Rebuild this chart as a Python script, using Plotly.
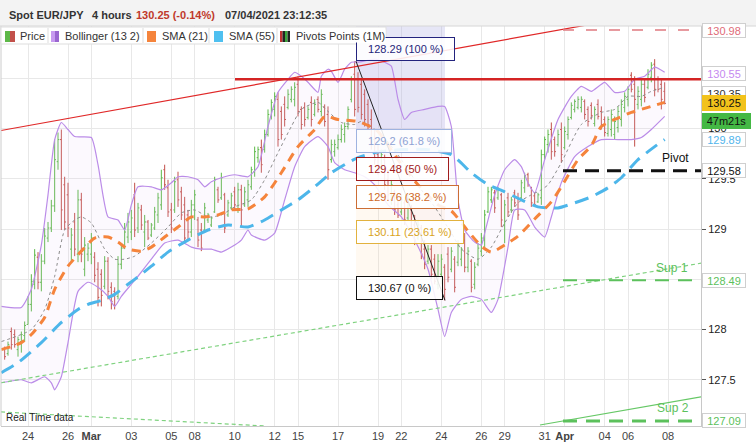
import plotly.graph_objects as go

FONT = "Liberation Sans, Arial, Helvetica, sans-serif"

# ---------------- data (EUR/JPY, 4-hour bars) ----------------
# bar index 0 = 24 Feb 00:00; weekdays have 6 bars, Sundays 1 bar
opens = [
    127.80, 127.76, 127.98, 127.95, 127.80, 127.88, 127.94, 128.05, 128.25, 128.45,
    128.72, 128.47, 128.68, 128.91, 129.01, 129.23, 129.67, 129.89, 129.44, 129.34,
    128.80, 129.07, 128.75, 129.29, 128.60, 128.75, 128.75, 128.72, 128.60, 128.55,
    128.43, 128.68, 128.42, 128.38, 128.33, 128.65, 128.81, 128.92, 128.97, 129.34,
    129.01, 129.19, 128.97, 129.07, 128.94, 129.01, 129.14, 129.24, 129.59, 129.41,
    129.19, 129.19, 129.49, 129.37, 129.24, 129.14, 128.97, 129.24, 129.09, 128.99,
    128.99, 129.09, 129.04, 129.17, 129.39, 129.31, 129.34, 129.14, 129.21, 129.37,
    129.19, 129.39, 129.24, 129.29, 129.42, 129.57, 129.71, 129.81, 129.79, 129.94,
    130.12, 130.19, 130.29, 130.17, 130.24, 130.21, 130.29, 130.29, 130.44, 130.19,
    130.21, 130.11, 130.26, 130.14, 130.29, 130.17, 130.21, 130.14, 129.69, 129.77,
    129.81, 129.89, 129.94, 130.02, 130.29, 130.54, 130.49, 130.44, 130.34, 130.24,
    130.09, 129.89, 129.74, 129.61, 129.69, 129.49, 129.29, 129.37, 129.24, 129.17,
    129.26, 129.11, 129.19, 129.04, 128.91, 129.01, 128.80, 128.68, 128.80, 128.70,
    128.45, 128.55, 128.62, 128.75, 128.60, 128.70, 128.67, 128.70, 128.89, 128.62,
    128.68, 128.45, 128.65, 128.78, 128.89, 129.17, 129.29, 129.36, 129.31, 129.34,
    129.04, 129.31, 129.19, 129.36, 129.31, 129.31, 129.41, 129.54, 129.41, 129.33,
    129.27, 129.31, 129.74, 129.84, 129.99, 129.89, 129.84, 129.99, 129.81, 129.94,
    130.11, 130.19, 130.21, 130.21, 130.27, 130.19, 130.23, 130.05, 130.24, 130.17,
    130.09, 129.95, 129.99, 129.94, 130.01, 130.09, 130.21, 130.29, 130.53, 130.44,
    130.24, 130.29, 130.44, 130.41, 130.51, 130.64, 130.49, 130.44, 130.37,
]
highs = [
    127.83, 127.88, 128.02, 128.00, 127.93, 127.98, 128.08, 128.33, 128.55, 128.80,
    128.77, 128.75, 129.01, 129.07, 129.29, 129.89, 129.96, 129.99, 129.52, 129.46,
    129.01, 129.16, 129.39, 129.36, 128.92, 128.86, 128.96, 128.77, 128.67, 128.60,
    128.73, 128.72, 128.47, 128.42, 128.73, 128.86, 129.06, 129.16, 129.19, 129.46,
    129.26, 129.24, 129.14, 129.09, 129.06, 129.22, 129.36, 129.59, 129.64, 129.49,
    129.26, 129.52, 129.57, 129.42, 129.32, 129.19, 129.29, 129.39, 129.12, 129.06,
    129.26, 129.16, 129.12, 129.52, 129.42, 129.56, 129.36, 129.29, 129.36, 129.42,
    129.46, 129.44, 129.42, 129.49, 129.62, 129.82, 129.82, 129.89, 129.99, 130.19,
    130.29, 130.36, 130.36, 130.22, 130.32, 130.39, 130.42, 130.46, 130.52, 130.22,
    130.26, 130.22, 130.32, 130.29, 130.32, 130.39, 130.24, 130.22, 129.89, 129.89,
    129.94, 130.04, 130.06, 130.22, 130.52, 130.67, 130.56, 130.49, 130.39, 130.29,
    130.19, 129.99, 129.84, 129.79, 129.74, 129.59, 129.49, 129.39, 129.29, 129.34,
    129.29, 129.34, 129.24, 129.14, 129.09, 129.04, 128.89, 128.84, 128.84, 128.75,
    128.75, 128.75, 128.65, 128.82, 128.82, 128.73, 128.89, 128.82, 128.96, 128.82,
    128.70, 128.67, 128.86, 128.96, 129.19, 129.42, 129.42, 129.39, 129.42, 129.36,
    129.29, 129.36, 129.32, 129.39, 129.36, 129.49, 129.56, 129.56, 129.42, 129.36,
    129.36, 129.79, 129.92, 129.99, 130.06, 129.92, 129.99, 130.06, 130.02, 130.12,
    130.26, 130.29, 130.32, 130.32, 130.29, 130.22, 130.26, 130.22, 130.29, 130.22,
    130.12, 130.12, 130.19, 130.12, 130.22, 130.29, 130.36, 130.42, 130.56, 130.52,
    130.42, 130.49, 130.49, 130.59, 130.66, 130.69, 130.52, 130.49, 130.46,
]
lows = [
    127.70, 127.74, 127.80, 127.82, 127.73, 127.77, 127.88, 128.05, 128.18, 128.40,
    128.40, 128.38, 128.65, 128.87, 128.97, 129.17, 129.59, 128.99, 128.99, 128.92,
    128.68, 128.73, 128.67, 128.67, 128.53, 128.68, 128.65, 128.47, 128.23, 128.23,
    128.40, 128.30, 128.20, 128.20, 128.30, 128.60, 128.80, 128.86, 128.89, 128.92,
    128.96, 128.99, 128.82, 128.89, 128.92, 128.99, 129.06, 129.19, 129.39, 129.12,
    128.96, 129.16, 129.22, 129.09, 128.86, 128.89, 128.92, 129.09, 128.82, 128.78,
    128.96, 129.06, 129.02, 129.16, 129.26, 129.29, 128.96, 129.12, 129.19, 129.19,
    129.16, 129.02, 129.22, 129.22, 129.39, 129.52, 129.66, 129.56, 129.76, 129.92,
    130.09, 130.12, 129.82, 129.89, 130.02, 130.19, 130.26, 130.22, 130.12, 129.99,
    130.02, 130.09, 130.02, 130.12, 130.16, 130.12, 130.02, 129.49, 129.66, 129.72,
    129.79, 129.86, 129.86, 129.99, 130.26, 130.12, 130.16, 130.09, 130.02, 129.99,
    129.79, 129.64, 129.54, 129.59, 129.39, 129.29, 129.24, 129.14, 129.11, 129.14,
    129.04, 129.09, 128.94, 128.84, 128.89, 128.70, 128.60, 128.65, 128.50, 128.45,
    128.40, 128.45, 128.29, 128.47, 128.57, 128.37, 128.63, 128.63, 128.57, 128.57,
    128.37, 128.40, 128.63, 128.73, 128.82, 129.16, 129.26, 129.16, 129.29, 129.02,
    128.86, 129.12, 129.16, 129.22, 129.09, 129.29, 129.36, 129.42, 129.22, 129.22,
    129.26, 129.24, 129.69, 129.76, 129.69, 129.72, 129.82, 129.66, 129.79, 129.89,
    130.09, 130.16, 130.19, 130.16, 130.09, 130.02, 130.09, 130.02, 130.09, 129.99,
    129.92, 129.92, 129.92, 129.89, 129.96, 130.02, 130.16, 130.22, 130.36, 129.82,
    130.19, 130.22, 130.26, 130.39, 130.46, 130.32, 130.36, 130.19, 130.24,
]
closes = [
    127.73, 127.85, 127.85, 127.85, 127.90, 127.95, 128.04, 128.25, 128.48, 128.74,
    128.47, 128.68, 128.93, 129.01, 129.23, 129.69, 129.89, 129.19, 129.07, 129.01,
    128.94, 128.80, 129.29, 128.75, 128.84, 128.81, 128.91, 128.54, 128.32, 128.34,
    128.68, 128.38, 128.28, 128.24, 128.65, 128.81, 128.97, 129.07, 129.11, 128.99,
    129.21, 129.04, 129.07, 128.91, 129.04, 129.17, 129.31, 129.51, 129.44, 129.17,
    129.01, 129.47, 129.29, 129.14, 128.91, 128.97, 129.24, 129.34, 128.89, 128.81,
    129.21, 129.14, 129.11, 129.49, 129.29, 129.51, 129.01, 129.26, 129.33, 129.24,
    129.39, 129.19, 129.37, 129.44, 129.59, 129.77, 129.79, 129.64, 129.94, 130.14,
    130.26, 130.32, 129.89, 129.94, 130.09, 130.34, 130.39, 130.41, 130.17, 130.04,
    130.09, 130.19, 130.09, 130.24, 130.19, 130.34, 130.07, 129.59, 129.84, 129.84,
    129.89, 129.99, 130.02, 130.19, 130.49, 130.19, 130.21, 130.14, 130.09, 130.04,
    129.84, 129.69, 129.59, 129.74, 129.44, 129.34, 129.44, 129.19, 129.14, 129.29,
    129.09, 129.29, 128.99, 128.89, 129.04, 128.75, 128.65, 128.80, 128.55, 128.48,
    128.68, 128.70, 128.40, 128.52, 128.78, 128.42, 128.84, 128.80, 128.62, 128.78,
    128.42, 128.62, 128.81, 128.91, 129.14, 129.37, 129.39, 129.21, 129.39, 129.09,
    129.24, 129.17, 129.29, 129.26, 129.14, 129.46, 129.53, 129.44, 129.26, 129.24,
    129.34, 129.74, 129.89, 129.94, 129.77, 129.77, 129.94, 129.74, 129.97, 130.09,
    130.23, 130.27, 130.29, 130.29, 130.14, 130.07, 130.13, 130.19, 130.12, 130.04,
    129.96, 130.09, 130.14, 130.07, 130.17, 130.24, 130.32, 130.39, 130.39, 130.29,
    130.37, 130.44, 130.31, 130.54, 130.63, 130.39, 130.39, 130.29, 130.25,
]
first_bar = -7
bar_x = list(range(first_bar, first_bar + len(closes)))

tick_pos = [0, 12, 19, 31, 43, 50, 62, 74, 81, 93, 105, 112, 124, 136, 143, 155, 161, 173, 180, 192]
tick_text = ["24", "26", "<b>Mar</b>", "03", "05", "08", "10", "12", "15", "17", "19",
             "22", "24", "26", "29", "31", "<b>Apr</b>", "04", "06", "08"]

# indicators (bar index, price)
sma21_x = [-8, -5, -2, 1, 5, 8, 12, 16, 20, 24, 27, 30, 34, 37, 41, 45, 49, 53, 57, 61,
           66, 71, 76, 81, 86, 89, 93, 99, 102, 105, 111, 117, 123, 127, 132, 136, 139, 142, 147, 152,
           157, 160, 165, 169, 172, 176, 181, 186, 191]
sma21_y = [127.80, 127.83, 127.87, 127.95, 128.12, 128.40, 128.63, 128.78, 128.91, 128.92,
           128.87, 128.80, 128.78, 128.82, 128.92, 129.02, 129.12, 129.12, 129.14, 129.19,
           129.20, 129.32, 129.56, 129.82, 129.99, 130.12, 130.09, 130.07, 130.03, 129.97,
           129.69, 129.44, 129.24, 129.18, 128.98, 128.83, 128.77, 128.82, 128.93, 129.10,
           129.27, 129.42, 129.69, 129.83, 130.02, 130.09, 130.16, 130.21, 130.26]
sma55_x = [-8, -3, 4, 10, 15, 18, 22, 26, 30, 34, 37, 42, 48, 54, 60, 66, 71, 76, 81, 86,
           91, 96, 99, 104, 112, 120, 127, 133, 138, 143, 148, 153, 159, 164, 169, 174, 178, 183, 188, 191]
sma55_y = [127.57, 127.67, 127.87, 128.07, 128.20, 128.25, 128.29, 128.35, 128.45, 128.55,
           128.63, 128.77, 128.89, 128.99, 129.04, 129.02, 129.09, 129.19, 129.29, 129.42,
           129.56, 129.66, 129.71, 129.76, 129.79, 129.79, 129.74, 129.56, 129.44, 129.37,
           129.29, 129.22, 129.21, 129.26, 129.32, 129.41, 129.51, 129.69, 129.82, 129.89]
bbm_x = [-8, 1, 5, 8, 11, 14, 16, 19, 23, 26, 29, 32, 37, 42, 46, 50, 54, 58, 62, 67,
         71, 75, 79, 82, 87, 90, 94, 98, 100, 106, 112, 118, 122, 127, 130, 135, 139, 143, 147, 151,
         154, 156, 160, 166, 172, 176, 180, 184, 187, 191]
bbm_y = [127.88, 128.00, 128.20, 128.53, 128.99, 129.09, 129.12, 129.06, 128.80, 128.70,
         128.70, 128.73, 128.86, 129.02, 129.16, 129.19, 129.12, 129.14, 129.22, 129.29,
         129.49, 129.76, 130.02, 130.19, 130.26, 130.17, 130.06, 130.04, 130.07, 129.94,
         129.69, 129.39, 129.22, 128.96, 128.80, 128.70, 128.82, 129.06, 129.26, 129.34,
         129.39, 129.44, 129.66, 130.04, 130.16, 130.19, 130.32, 130.32, 130.37, 130.41]
bbu_x = [-8, -2, 1, 4, 6, 8, 10, 12, 14, 19, 21, 24, 27, 29, 31, 33, 37, 40, 43, 45,
         48, 51, 53, 55, 58, 62, 66, 69, 72, 75, 78, 80, 82, 84, 87, 88, 90, 91, 93, 95,
         97, 99, 104, 107, 109, 111, 113, 115, 119, 123, 125, 127, 129, 131, 134, 136, 137, 140, 143, 146,
         148, 150, 152, 155, 159, 163, 166, 169, 173, 176, 179, 182, 185, 188, 191]
bbu_y = [128.23, 128.22, 128.40, 128.84, 129.34, 129.89, 130.06, 129.99, 129.92, 129.91,
         129.64, 129.12, 129.09, 128.99, 129.24, 129.42, 129.42, 129.39, 129.46, 129.52,
         129.52, 129.49, 129.42, 129.47, 129.51, 129.54, 129.52, 129.62, 130.02, 130.36,
         130.49, 130.56, 130.52, 130.46, 130.36, 130.52, 130.59, 130.57, 130.46, 130.59,
         130.66, 130.66, 130.69, 130.66, 130.62, 130.29, 130.09, 130.16, 130.19, 130.22,
         130.22, 130.02, 129.29, 128.99, 128.87, 128.84, 128.96, 129.34, 129.59, 129.69,
         129.62, 129.46, 129.36, 129.69, 130.09, 130.32, 130.42, 130.37, 130.46, 130.36,
         130.37, 130.49, 130.52, 130.61, 130.56]
bbl_x = [-8, -2, 1, 5, 7, 8, 10, 12, 15, 18, 21, 24, 26, 28, 31, 33, 37, 41, 45, 49,
         52, 55, 58, 61, 64, 66, 67, 71, 74, 77, 80, 83, 87, 90, 92, 95, 98, 101, 104, 108,
         112, 116, 120, 123, 125, 127, 130, 133, 136, 139, 141, 144, 146, 149, 152, 155, 157, 160, 164, 168,
         172, 177, 181, 184, 187, 191]
bbl_y = [127.47, 127.50, 127.47, 127.53, 127.47, 127.40, 127.53, 127.87, 128.38, 128.47,
         128.42, 128.33, 128.23, 128.33, 128.45, 128.53, 128.70, 128.86, 128.89, 128.82,
         128.80, 128.80, 128.77, 128.82, 128.89, 128.99, 128.94, 128.89, 128.96, 129.29,
         129.62, 129.82, 129.92, 129.82, 129.66, 129.59, 129.56, 129.52, 129.44, 129.24,
         129.12, 128.89, 128.60, 128.20, 127.93, 128.17, 128.30, 128.33, 128.30, 128.17,
         128.30, 128.82, 129.19, 129.19, 129.02, 128.92, 129.12, 129.46, 129.72, 129.82,
         129.89, 129.89, 129.89, 129.91, 129.99, 130.12]

# fibonacci retracement (swing high -> swing low)
fib_x = [98.4, 125.1]
fib_hi, fib_lo = 130.67, 128.29
fib_pcts = [100, 61.8, 50, 38.2, 23.61, 0]
fib_colors = ["#1f1f7a", "#8fa2d4", "#a31b1b", "#cf6a2a", "#d9a322", "#111111"]
fib_borders = ["#23237e", "#9fb3e0", "#a01c1c", "#cc6e35", "#e2b23e", "#111111"]

# monthly pivots (drawn from 1 April)
pivot_start = 160.5
pivot_level, sup1_level, sup2_level, res1_level = 129.58, 128.49, 127.09, 130.98
resist_start, resist_level = 62.1, 130.49

# hand-drawn trend lines (bar index, price)
trend_red_x, trend_red_y = [-8.1, 167.7], [129.98, 131.03]
trend_sup_x, trend_sup_y = [-8.1, 201.9], [127.47, 128.66]
trend_rt_x, trend_rt_y = [-8.1, 71.1], [127.18, 127.04]
trend_low_x, trend_low_y = [153.6, 201.9], [127.05, 127.33]

# right-hand price tags
tag_values = [130.98, 130.55, 130.35, 129.89, 129.58, 128.49, 127.09]
tag_colors = ["#e06b78", "#c58af0", "#333333", "#4fb4ec", "#111111", "#5cc15c", "#5cc15c"]
last_price, countdown = 130.25, "47m21s"

y_ticks = [127.5, 128, 128.5, 129, 129.5, 130, 130.5]
y_tick_text = ["127.5", "128", "", "129", "129.5", "130", ""]

# ---------------- layout helpers ----------------
W, H = 756, 445
ML, MR, MT, MB = 1, 55, 26, 19
PW, PH = W - ML - MR, H - MT - MB


def px2x(px):
    return (px - ML) / PW


def py2y(py):
    return 1 - (py - MT) / PH


x_range = [-8.1, 201.9]
y_range = [127.04, 131.02]

fig = go.Figure()

# Bollinger fill
fig.add_trace(go.Scatter(x=bbu_x + bbl_x[::-1], y=bbu_y + bbl_y[::-1], mode="lines",
                         fill="toself", fillcolor="rgba(232,196,244,0.11)",
                         line=dict(width=0, shape="spline", smoothing=0.5), hoverinfo="skip"))
for xs, ys in ((bbu_x, bbu_y), (bbl_x, bbl_y)):
    fig.add_trace(go.Scatter(x=xs, y=ys, mode="lines", hoverinfo="skip",
                             line=dict(color="#bb8ce8", width=1.2, shape="spline", smoothing=0.5)))
fig.add_trace(go.Scatter(x=bbm_x, y=bbm_y, mode="lines", hoverinfo="skip",
                         line=dict(color="#8c8c8c", width=1, dash="3px,3px", shape="spline", smoothing=0.6)))
fig.add_trace(go.Scatter(x=sma55_x, y=sma55_y, mode="lines", hoverinfo="skip",
                         line=dict(color="#4db6ea", width=3, dash="14px,8px", shape="spline", smoothing=0.6)))
fig.add_trace(go.Scatter(x=sma21_x, y=sma21_y, mode="lines", hoverinfo="skip",
                         line=dict(color="#f5843c", width=3, dash="9px,7px", shape="spline", smoothing=0.6)))

# trend lines
fig.add_trace(go.Scatter(x=trend_red_x, y=trend_red_y, mode="lines", hoverinfo="skip",
                         line=dict(color="#e02828", width=1.2)))
fig.add_trace(go.Scatter(x=trend_sup_x, y=trend_sup_y, mode="lines", hoverinfo="skip",
                         line=dict(color="#7fd27f", width=1.2, dash="4px,3px")))
fig.add_trace(go.Scatter(x=trend_rt_x, y=trend_rt_y, mode="lines", hoverinfo="skip",
                         line=dict(color="#7fd27f", width=1.2, dash="4px,3px")))
fig.add_trace(go.Scatter(x=trend_low_x, y=trend_low_y, mode="lines", hoverinfo="skip",
                         line=dict(color="#66c866", width=1.2)))

# fib diagonal
fig.add_trace(go.Scatter(x=fib_x, y=[fib_hi, fib_lo], mode="lines", hoverinfo="skip",
                         line=dict(color="#222222", width=1)))

# price bars
fig.add_trace(go.Ohlc(x=bar_x, open=opens, high=highs, low=lows, close=closes,
                      increasing_line_color="#5db848", decreasing_line_color="#c2504a",
                      line=dict(width=1), tickwidth=0.4, hoverinfo="skip"))

shapes = []
rng = fib_hi - fib_lo
# fib zones
shapes.append(dict(type="rect", xref="x", yref="y", x0=fib_x[0], x1=fib_x[1],
                   y0=fib_lo + 0.618 * rng, y1=y_range[1] + 1, layer="between",
                   fillcolor="rgba(178,178,228,0.33)", line=dict(width=0)))
shapes.append(dict(type="rect", xref="x", yref="y", x0=fib_x[0], x1=fib_x[1],
                   y0=fib_lo, y1=fib_lo + 0.382 * rng, layer="between",
                   fillcolor="rgba(255,205,150,0.13)", line=dict(width=0)))
# resistance and pivots
shapes.append(dict(type="line", xref="x", yref="y", x0=resist_start, x1=x_range[1],
                   y0=resist_level, y1=resist_level, line=dict(color="#d42424", width=2.5)))
shapes.append(dict(type="line", xref="x", yref="y", x0=pivot_start, x1=x_range[1],
                   y0=res1_level, y1=res1_level, line=dict(color="#e07a80", width=1.5, dash="11px,12px")))
shapes.append(dict(type="line", xref="x", yref="y", x0=pivot_start, x1=x_range[1],
                   y0=pivot_level, y1=pivot_level, line=dict(color="#111111", width=3, dash="14px,8px")))
shapes.append(dict(type="line", xref="x", yref="y", x0=pivot_start, x1=x_range[1],
                   y0=sup1_level, y1=sup1_level, line=dict(color="#5cc15c", width=2, dash="14px,9px")))
shapes.append(dict(type="line", xref="x", yref="y", x0=pivot_start, x1=x_range[1],
                   y0=sup2_level, y1=sup2_level, line=dict(color="#5cc15c", width=3, dash="14px,9px")))

# left border
shapes.append(dict(type="line", xref="paper", yref="paper", x0=0, x1=0, y0=0, y1=1,
                   line=dict(color="#cccccc", width=1)))
# header band
shapes.append(dict(type="rect", xref="paper", yref="paper", x0=px2x(-2), x1=px2x(W + 2),
                   y0=py2y(26), y1=py2y(-2), fillcolor="#f3f3f3", line=dict(width=0)))
shapes.append(dict(type="line", xref="paper", yref="paper", x0=px2x(0), x1=px2x(W),
                   y0=py2y(26), y1=py2y(26), line=dict(color="#d6d6d6", width=1)))
# legend row
shapes.append(dict(type="rect", xref="paper", yref="paper", x0=px2x(1), x1=px2x(386),
                   y0=py2y(44), y1=py2y(27), fillcolor="white", line=dict(color="#dddddd", width=1)))
for dx in (48, 143, 209, 277):
    shapes.append(dict(type="line", xref="paper", yref="paper", x0=px2x(dx), x1=px2x(dx),
                       y0=py2y(43), y1=py2y(28), line=dict(color="#dddddd", width=1)))
icons = [
    (5, 10, "#5db848"), (10, 15, "#c2504a"),
    (51, 55, "#c79af0"), (55, 59, "#9a66d0"),
    (147, 156, "#f5843c"),
    (214, 223, "#4fc0f0"),
    (280, 282.5, "#c03030"), (282.5, 285, "#222222"), (285, 287.5, "#3aa63a"), (287.5, 290, "#222222"),
]
for x0, x1, c in icons:
    shapes.append(dict(type="rect", xref="paper", yref="paper", x0=px2x(x0), x1=px2x(x1),
                       y0=py2y(42), y1=py2y(31), fillcolor=c, line=dict(width=0)))

ann = []
# fib level boxes
for p, tc, bc in zip(fib_pcts, fib_colors, fib_borders):
    lvl = fib_lo + p / 100 * rng
    val = round(fib_hi - p / 100 * rng, 2)
    vs = f"{val:.2f}".rstrip("0").rstrip(".")
    ann.append(dict(x=fib_x[0], y=lvl, xref="x", yref="y", xanchor="left", yanchor="bottom",
                    text="\u00a0\u00a0" + f"{vs} ({p:g} %)" + "\u00a0\u00a0", showarrow=False,
                    font=dict(family=FONT, size=11, color=tc), bgcolor="rgba(255,255,255,0.88)",
                    bordercolor=bc, borderwidth=1, borderpad=5))

# pivot labels
ann.append(dict(x=px2x(691), y=pivot_level, xref="paper", yref="y", xanchor="right", yanchor="middle",
                yshift=13, text="Pivot", showarrow=False, font=dict(family=FONT, size=12, color="#111")))
ann.append(dict(x=px2x(690), y=sup1_level, xref="paper", yref="y", xanchor="right", yanchor="middle",
                yshift=12, text="Sup 1", showarrow=False, font=dict(family=FONT, size=12, color="#5cc15c")))
ann.append(dict(x=px2x(691), y=sup2_level, xref="paper", yref="y", xanchor="right", yanchor="middle",
                yshift=13, text="Sup 2", showarrow=False, font=dict(family=FONT, size=12, color="#5cc15c")))
ann.append(dict(x=px2x(4), y=py2y(417), xref="paper", yref="paper", xanchor="left", yanchor="middle",
                text="Real Time data", showarrow=False, font=dict(family=FONT, size=10, color="#222")))

# right tags
for v, c in zip(tag_values, tag_colors):
    ann.append(dict(x=px2x(702), y=v, xref="paper", yref="y", xanchor="left", yanchor="middle",
                    text=f"{v:.2f}", showarrow=False, font=dict(family=FONT, size=11, color=c),
                    bgcolor="white", bordercolor="#cfcfcf", borderwidth=1, borderpad=0,
                    width=42, height=13))
ann.append(dict(x=px2x(702), y=last_price, xref="paper", yref="y", xanchor="left", yanchor="middle",
                text=f"{last_price:.2f}", showarrow=False, font=dict(family=FONT, size=11, color="#111"),
                bgcolor="#f2c21b", bordercolor="#f2c21b", borderwidth=1, borderpad=0, width=42, height=14))
ann.append(dict(x=px2x(702), y=last_price, xref="paper", yref="y", xanchor="left", yanchor="middle",
                yshift=-18, text=countdown, showarrow=False, font=dict(family=FONT, size=11, color="#111"),
                bgcolor="#44b844", bordercolor="#44b844", borderwidth=1, borderpad=0, width=47, height=14))

# header
for txt, px, col in (("Spot EUR/JPY", 7, "#333333"), ("4 hours", 90, "#333333"),
                     ("130.25 (-0.14%)", 134, "#c0392b"), ("07/04/2021 23:12:35", 223, "#333333")):
    ann.append(dict(x=px2x(px), y=py2y(15), xref="paper", yref="paper", xanchor="left", yanchor="middle",
                    text=f"<b>{txt}</b>", showarrow=False, font=dict(family=FONT, size=11, color=col)))
# legend texts
for txt, px in (("Price", 19), ("Bollinger (13 2)", 64), ("SMA (21)", 161), ("SMA (55)", 228),
                ("Pivots Points (1M)", 295)):
    ann.append(dict(x=px2x(px), y=py2y(36), xref="paper", yref="paper", xanchor="left", yanchor="middle",
                    text=txt, showarrow=False, font=dict(family=FONT, size=11, color="#333"),
                    bgcolor="white" if txt.startswith("Pivots") else None, borderpad=0))

fig.update_layout(
    width=W, height=H, margin=dict(l=ML, r=MR, t=MT, b=MB, pad=0),
    paper_bgcolor="white", plot_bgcolor="white", showlegend=False, hovermode=False,
    shapes=shapes, annotations=ann,
    xaxis=dict(range=x_range, tickmode="array", tickvals=tick_pos, ticktext=tick_text,
               showgrid=True, gridcolor="#e8e8e8", gridwidth=1, zeroline=False,
               showline=True, linecolor="#c8c8c8", ticks="", rangeslider=dict(visible=False),
               tickfont=dict(family=FONT, size=11, color="#444")),
    yaxis=dict(range=y_range, side="right", tickmode="array", tickvals=y_ticks,
               ticktext=y_tick_text,
               showgrid=True, gridcolor="#e8e8e8", gridwidth=1, zeroline=False,
               showline=True, linecolor="#c8c8c8", ticks="outside", ticklen=4, tickcolor="#555",
               tickfont=dict(family=FONT, size=11, color="#222")),
)

fig.write_html("out.html", config={"displayModeBar": False})
